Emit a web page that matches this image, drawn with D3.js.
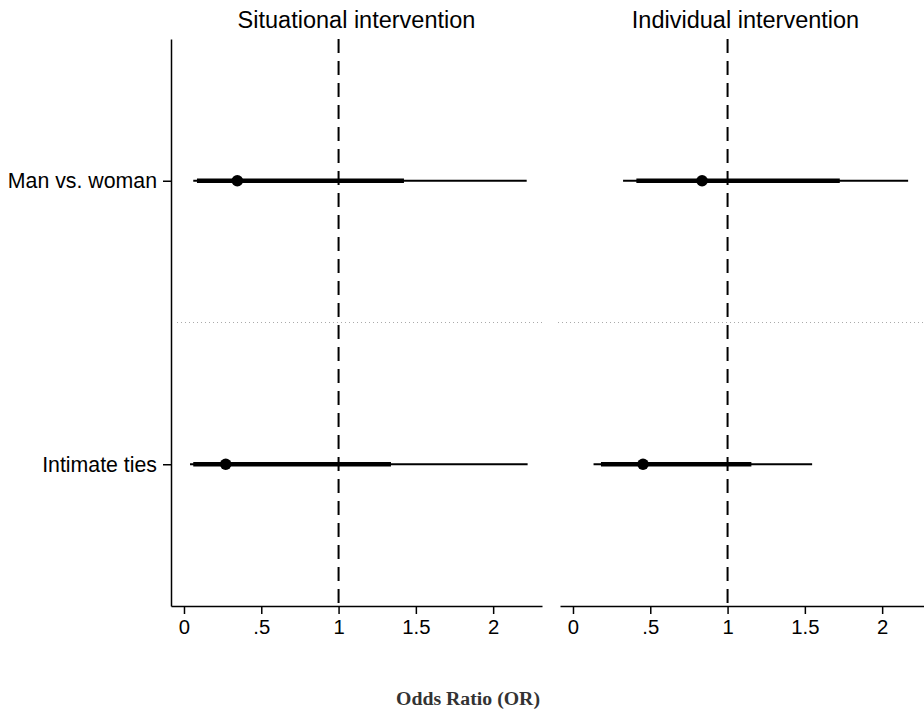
<!DOCTYPE html>
<html>
<head>
<meta charset="utf-8">
<script src="https://cdn.jsdelivr.net/npm/d3@7"></script>
<style>
  body { margin: 0; background: #fff; }
  svg { display: block; }
</style>
</head>
<body>
<svg></svg>
<script>
// odds ratios, one inner array per panel
const panelTitles = ["Situational intervention", "Individual intervention"];
const categories = ["Man vs. woman", "Intimate ties"];
const pointEst = [[0.345, 0.27], [0.835, 0.453]];
const innerLow = [[0.084, 0.06], [0.41, 0.181]];
const innerHigh = [[1.423, 1.339], [1.726, 1.154]];
const outerLow = [[0.06, 0.039], [0.324, 0.133]];
const outerHigh = [[2.217, 2.223], [2.168, 1.547]];
const xTicks = [0, 0.5, 1, 1.5, 2];
const xTickLabels = ["0", ".5", "1", "1.5", "2"];
const refValue = 1;

const width = 924;
const height = 712;
const panelLeft = [171, 560];
const panelWidth = 371;
const plotTop = 39;
const plotBottom = 606;

const svg = d3.select("svg").attr("width", width).attr("height", height);

const xScale = d3.scaleLinear().domain([-0.084, 2.316]).range([0, panelWidth]);
const yScale = d3.scalePoint().domain(categories).range([plotTop, plotBottom]).padding(0.5);

panelTitles.forEach((title, p) => {
  const g = svg.append("g").attr("transform", `translate(${panelLeft[p]},0)`);

  // dotted separator between the two rows
  const mid = (yScale(categories[0]) + yScale(categories[1])) / 2;
  g.append("line")
    .attr("x1", p === 0 ? 6 : -2)
    .attr("x2", panelWidth)
    .attr("y1", mid)
    .attr("y2", mid)
    .attr("stroke", "#aaa")
    .attr("stroke-width", 1)
    .attr("stroke-dasharray", "1,3");

  // reference line at OR = 1
  g.append("line")
    .attr("x1", xScale(refValue))
    .attr("x2", xScale(refValue))
    .attr("y1", plotTop)
    .attr("y2", plotBottom)
    .attr("stroke", "#000")
    .attr("stroke-width", 2)
    .attr("stroke-dasharray", "14,8");

  const rows = categories.map((c, i) => ({
    cat: c,
    est: pointEst[p][i],
    lo1: innerLow[p][i],
    hi1: innerHigh[p][i],
    lo2: outerLow[p][i],
    hi2: outerHigh[p][i],
  }));

  g.selectAll(".outer")
    .data(rows)
    .enter()
    .append("line")
    .attr("class", "outer")
    .attr("x1", (d) => xScale(d.lo2))
    .attr("x2", (d) => xScale(d.hi2))
    .attr("y1", (d) => yScale(d.cat))
    .attr("y2", (d) => yScale(d.cat))
    .attr("stroke", "#000")
    .attr("stroke-width", 2);

  g.selectAll(".inner")
    .data(rows)
    .enter()
    .append("line")
    .attr("class", "inner")
    .attr("x1", (d) => xScale(d.lo1))
    .attr("x2", (d) => xScale(d.hi1))
    .attr("y1", (d) => yScale(d.cat))
    .attr("y2", (d) => yScale(d.cat))
    .attr("stroke", "#000")
    .attr("stroke-width", 4.5);

  g.selectAll(".dot")
    .data(rows)
    .enter()
    .append("circle")
    .attr("class", "dot")
    .attr("cx", (d) => xScale(d.est))
    .attr("cy", (d) => yScale(d.cat))
    .attr("r", 5.8)
    .attr("fill", "#000");

  const xAxis = d3
    .axisBottom(xScale)
    .tickValues(xTicks)
    .tickFormat((d, i) => xTickLabels[i])
    .tickSize(8)
    .tickSizeOuter(0)
    .tickPadding(6);

  const xg = g.append("g").attr("transform", `translate(0,${plotBottom})`).call(xAxis);
  xg.select(".domain").attr("stroke-width", 1.5);
  xg.selectAll(".tick line").attr("stroke-width", 1.5);
  xg.selectAll(".tick text")
    .attr("font-family", "Liberation Sans, Arial, sans-serif")
    .attr("font-size", 20.3)
    .attr("fill", "#000");

  if (p === 0) {
    const yAxis = d3.axisLeft(yScale).tickSize(8).tickSizeOuter(0).tickPadding(6);
    const yg = g.append("g").call(yAxis);
    yg.select(".domain").attr("stroke-width", 1.5);
    yg.selectAll(".tick line").attr("stroke-width", 1.5);
    yg.selectAll(".tick text")
      .attr("font-family", "Liberation Sans, Arial, sans-serif")
      .attr("font-size", 21.3)
      .attr("fill", "#000");
  }

  g.append("text")
    .attr("x", panelWidth / 2)
    .attr("y", 28)
    .attr("text-anchor", "middle")
    .attr("font-family", "Liberation Sans, Arial, sans-serif")
    .attr("font-size", 23.5)
    .attr("fill", "#000")
    .text(title);
});

svg.append("text")
  .attr("x", 468)
  .attr("y", 705)
  .attr("text-anchor", "middle")
  .attr("font-family", "Liberation Serif, serif")
  .attr("font-weight", "bold")
  .attr("font-size", 19.8)
  .attr("fill", "#333")
  .text("Odds Ratio (OR)");
</script>
</body>
</html>
